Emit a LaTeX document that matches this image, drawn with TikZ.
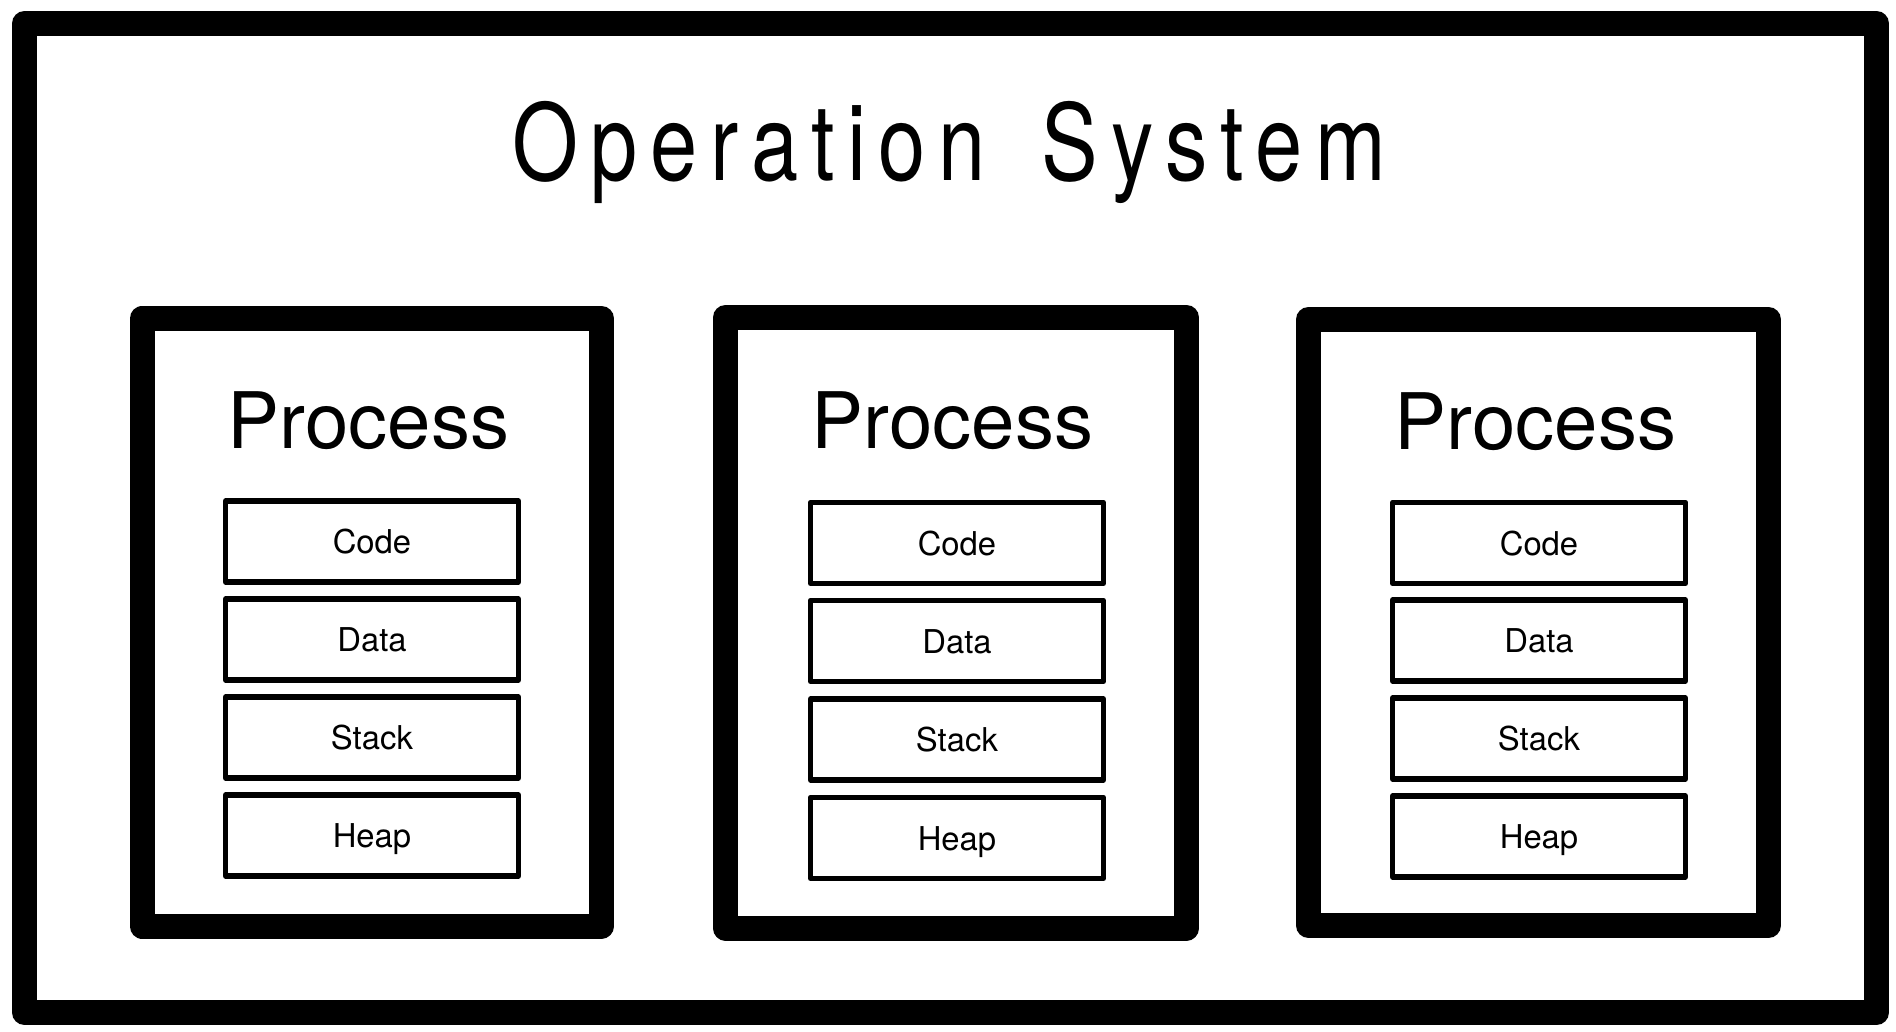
\documentclass[tikz,border=0pt]{standalone}
\usepackage{fontspec}
\setmainfont{TeX Gyre Heros}
\newfontfamily\titlefont[FakeStretch=0.8,LetterSpace=12]{TeX Gyre Heros}
\begin{document}
\begin{tikzpicture}[x=0.5pt,y=-0.5pt,
  frame/.style={draw=black,line width=12.5pt,line join=round,rectangle,inner sep=0pt},
  procbox/.style={draw=black,line width=12.5pt,line join=round,rectangle,inner sep=0pt},
  membox/.style={draw=black,line width=2.6pt,line join=round,rectangle,inner sep=0pt,
    minimum width=146.5pt,minimum height=40.5pt,text height=12.4pt,text depth=0pt,
    font=\fontsize{16.4pt}{16.4pt}\selectfont},
  proclabel/.style={anchor=base,inner sep=0pt,font=\fontsize{39pt}{39pt}\selectfont},
  ostitle/.style={anchor=base,inner sep=0pt,font=\titlefont\fontsize{53pt}{53pt}\selectfont}]
\useasboundingbox (0,0) rectangle (1896,1032);
% outer frame
\node[frame,minimum width=926pt,minimum height=494.5pt] (os) at (950.5,518) {};
\node[ostitle] (title) at (949,181) {Operation\hspace{28pt}System};
% process boxes
\node[procbox,minimum width=229.75pt,minimum height=303.75pt] (p1) at (371.75,622.25) {};
\node[procbox,minimum width=230.5pt,minimum height=305.25pt] (p2) at (956,622.75) {};
\node[procbox,minimum width=230pt,minimum height=303pt] (p3) at (1538.5,622.5) {};
\node[proclabel] (p1l) at (368.5,448.5) {Process};
\node[proclabel] (p2l) at (952.5,448.5) {Process};
\node[proclabel] (p3l) at (1535.5,449) {Process};
% memory segments
\node[membox] (c1) at (372,541.5) {Code};
\node[membox] (d1) at (372,639.5) {Data};
\node[membox] (s1) at (372,737.5) {Stack};
\node[membox] (h1) at (372,835.5) {Heap};
\node[membox] (c2) at (957,543) {Code};
\node[membox] (d2) at (957,641) {Data};
\node[membox] (s2) at (957,739.5) {Stack};
\node[membox] (h2) at (957,838) {Heap};
\node[membox] (c3) at (1539,543) {Code};
\node[membox] (d3) at (1539,640.5) {Data};
\node[membox] (s3) at (1539,738.5) {Stack};
\node[membox] (h3) at (1539,836.5) {Heap};
\end{tikzpicture}
\end{document}
